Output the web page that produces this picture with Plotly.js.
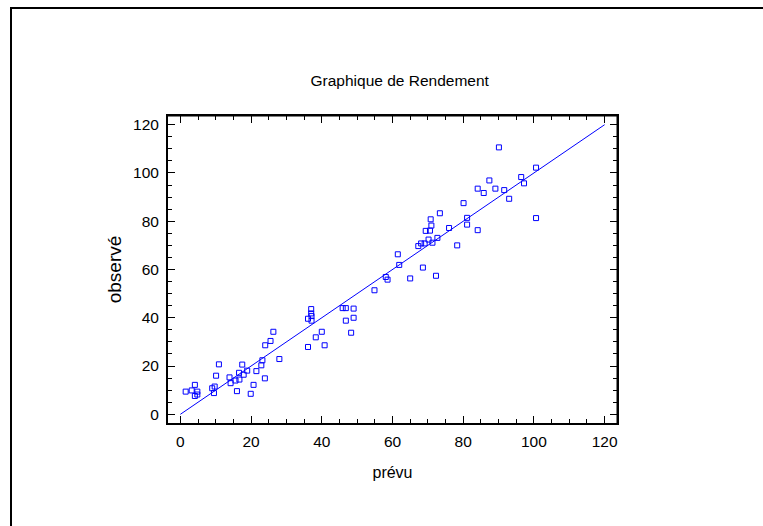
<!DOCTYPE html>
<html>
<head>
<meta charset="utf-8">
<script src="https://cdn.plot.ly/plotly-3.0.1.min.js"></script>
<style>
  html, body { margin: 0; padding: 0; background: #fff; }
  #wrap { position: relative; width: 763px; height: 526px; overflow: hidden; }
  #chart { position: absolute; left: 0; top: 0; width: 763px; height: 526px; }
  #frame { position: absolute; left: 10px; top: 7px; width: 800px; height: 600px;
           border-top: 2px solid #000; border-left: 2px solid #000; pointer-events: none; }
</style>
</head>
<body>
<div id="wrap">
  <div id="chart"></div>
  <div id="frame"></div>
</div>
<script>
// Predicted (prévu) values
const prevu = [
  1.5, 3.2, 4.1, 4.1, 4.8, 4.8, 9.0, 9.7, 9.5, 10.1,
  10.9, 13.9, 14.2, 15.6, 16.0, 16.6, 16.7, 17.5, 17.9, 18.9,
  19.9, 20.7, 21.5, 22.9, 23.2, 23.9, 24.0, 25.5, 26.3, 28.0,
  36.1, 36.1, 37.0, 37.0, 37.1, 37.1, 38.3, 40.0, 40.8, 45.9,
  46.8, 46.8, 48.3, 49.0, 49.0, 54.9, 58.1, 58.6, 61.5, 61.9,
  65.0, 67.3, 68.1, 68.6, 69.1, 69.4, 70.2, 70.6, 70.8, 71.0,
  71.3, 72.3, 72.7, 73.4, 76.0, 78.3, 80.1, 81.1, 81.1, 84.1,
  84.1, 85.8, 87.4, 89.1, 90.1, 91.6, 93.0, 96.4, 97.2, 100.6,
  100.6
];
// Observed (observé) values
const observe = [
  9.4, 9.9, 12.2, 7.6, 9.4, 8.2, 10.8, 11.5, 8.8, 16.0,
  20.7, 15.3, 12.9, 14.0, 9.6, 17.2, 14.4, 20.6, 16.4, 18.1,
  8.5, 12.2, 17.9, 20.3, 22.4, 14.9, 28.6, 30.4, 34.2, 22.9,
  27.9, 39.6, 43.6, 41.8, 40.7, 38.8, 31.9, 34.2, 28.6, 44.0,
  44.0, 38.8, 33.8, 43.8, 40.0, 51.4, 56.9, 55.8, 66.3, 61.9,
  56.3, 69.7, 70.8, 60.8, 70.8, 76.0, 72.4, 76.1, 80.8, 78.2,
  71.1, 57.4, 73.1, 83.3, 77.2, 70.0, 87.5, 81.4, 78.6, 93.5,
  76.3, 91.7, 96.9, 93.5, 110.6, 92.9, 89.3, 98.3, 95.7, 102.2,
  81.3
];
// Reference line (observé = prévu)
const lineX = [0, 120];
const lineY = [0, 120];
const tickVals = [0, 20, 40, 60, 80, 100, 120];
const tickText = ['0', '20', '40', '60', '80', '100', '120'];

const blue = '#0000ff';
const fontFam = '"Liberation Sans", Arial, sans-serif';

const traces = [
  { x: lineX, y: lineY, type: 'scatter', mode: 'lines',
    line: { color: blue, width: 1 }, hoverinfo: 'skip', showlegend: false },
  { x: prevu, y: observe, type: 'scatter', mode: 'markers',
    marker: { symbol: 'square-open', size: 5, color: blue, line: { color: blue, width: 1 } },
    showlegend: false }
];

function axisBase(range) {
  return {
    range: range, autorange: false,
    tickmode: 'array', tickvals: tickVals, ticktext: tickText,
    ticks: 'inside', ticklen: 7, tickwidth: 1, tickcolor: '#000',
    minor: { dtick: 5, tick0: 0, ticks: 'inside', ticklen: 4, tickwidth: 1, tickcolor: '#000', showgrid: false },
    showline: true, linecolor: '#000', linewidth: 2,
    mirror: 'ticks',
    showgrid: false, zeroline: false,
    tickfont: { family: fontFam, size: 15.5, color: '#000' }
  };
}

const xaxis = axisBase([-3.5, 123.5]);
xaxis.ticklabelstandoff = 3;
xaxis.title = { text: 'prévu', font: { family: fontFam, size: 16, color: '#000' }, standoff: 18 };
const yaxis = axisBase([-3.6, 123.6]);
yaxis.ticklabelstandoff = 4;
yaxis.title = { text: 'observé', font: { family: fontFam, size: 19, color: '#000' }, standoff: 6 };

const layout = {
  width: 763, height: 526,
  margin: { l: 168, r: 146, t: 116, b: 103, pad: 0 },
  paper_bgcolor: '#fff', plot_bgcolor: '#fff',
  font: { family: fontFam, color: '#000' },
  title: { text: 'Graphique de Rendement', font: { family: fontFam, size: 15.5, color: '#000' },
           x: 0.516, xref: 'paper', xanchor: 'center', y: 1 - 81 / 526, yanchor: 'middle' },
  xaxis: xaxis, yaxis: yaxis,
  shapes: [
    { type: 'line', xref: 'paper', yref: 'paper', x0: 0, x1: 1, y0: 1, y1: 1, line: { color: '#000', width: 1 } },
    { type: 'line', xref: 'paper', yref: 'paper', x0: 1, x1: 1, y0: 0, y1: 1, line: { color: '#000', width: 1 } }
  ]
};

Plotly.newPlot('chart', traces, layout, { displayModeBar: false, staticPlot: true });
</script>
</body>
</html>
